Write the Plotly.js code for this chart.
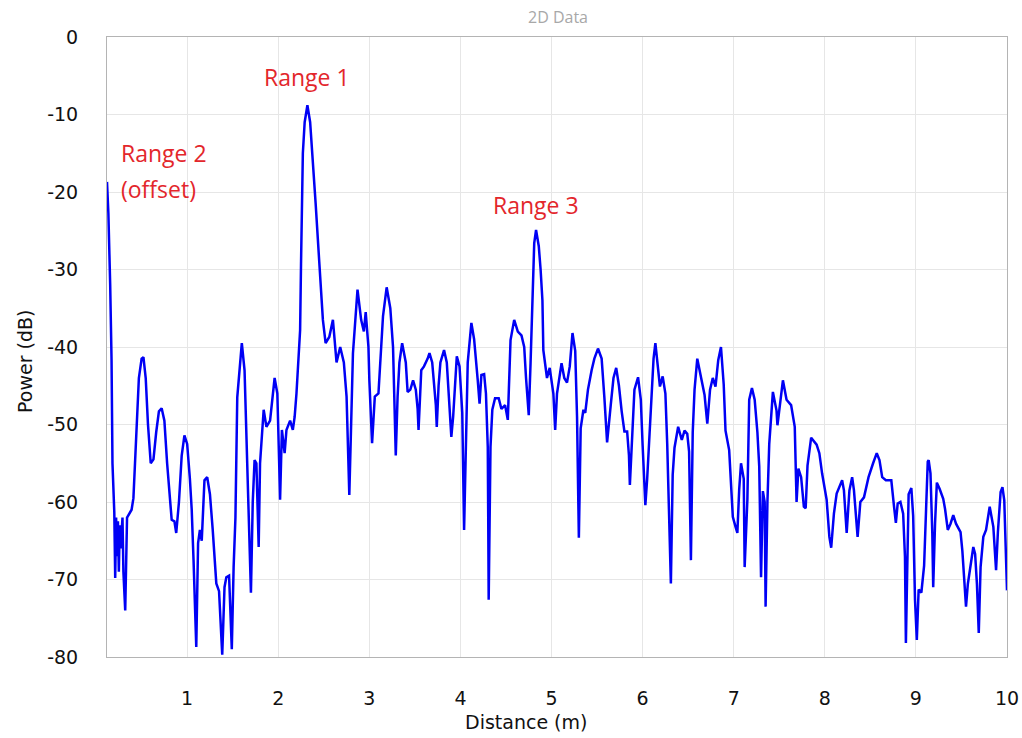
<!DOCTYPE html>
<html>
<head>
<meta charset="utf-8">
<script src="https://cdn.plot.ly/plotly-3.0.1.min.js"></script>
<style>html,body{margin:0;padding:0;background:#fff;}#chart{width:1022px;height:738px;}</style>
</head>
<body>
<div id="chart"></div>
<script>
const distance = [0.12,0.135,0.155,0.17,0.18,0.2,0.21,0.22,0.23,0.24,0.25,0.26,0.27,0.29,0.3,0.32,0.34,0.37,0.39,0.41,0.44,0.47,0.5,0.52,0.545,0.57,0.6,0.63,0.66,0.69,0.72,0.75,0.78,0.8,0.83,0.86,0.88,0.91,0.94,0.97,1.0,1.03,1.05,1.07,1.1,1.12,1.14,1.16,1.19,1.22,1.25,1.28,1.32,1.35,1.37,1.385,1.41,1.43,1.46,1.49,1.51,1.53,1.55,1.6,1.63,1.67,1.70,1.72,1.74,1.76,1.785,1.80,1.84,1.87,1.91,1.96,1.99,2.01,2.02,2.04,2.07,2.09,2.13,2.16,2.18,2.2,2.22,2.24,2.25,2.27,2.29,2.32,2.35,2.37,2.41,2.45,2.49,2.52,2.56,2.6,2.64,2.68,2.72,2.75,2.77,2.78,2.8,2.82,2.87,2.91,2.94,2.96,2.99,3.0,3.03,3.06,3.1,3.12,3.15,3.19,3.23,3.26,3.27,3.29,3.31,3.33,3.36,3.4,3.42,3.45,3.48,3.51,3.53,3.54,3.57,3.6,3.64,3.66,3.69,3.71,3.73,3.74,3.76,3.78,3.82,3.85,3.87,3.9,3.92,3.94,3.96,3.99,4.02,4.04,4.06,4.08,4.12,4.15,4.19,4.21,4.23,4.26,4.28,4.30,4.305,4.31,4.33,4.35,4.38,4.42,4.45,4.49,4.52,4.55,4.59,4.63,4.67,4.7,4.72,4.75,4.77,4.79,4.81,4.83,4.86,4.88,4.9,4.91,4.95,4.98,5.02,5.04,5.06,5.11,5.14,5.17,5.2,5.23,5.26,5.28,5.30,5.32,5.35,5.37,5.4,5.44,5.47,5.51,5.55,5.58,5.61,5.65,5.68,5.71,5.74,5.77,5.8,5.83,5.85,5.86,5.89,5.91,5.95,5.98,6.0,6.02,6.03,6.05,6.09,6.12,6.14,6.17,6.19,6.22,6.25,6.27,6.29,6.31,6.33,6.35,6.39,6.43,6.46,6.49,6.51,6.52,6.53,6.55,6.57,6.6,6.64,6.68,6.71,6.74,6.77,6.8,6.83,6.86,6.89,6.91,6.95,6.99,7.02,7.04,7.06,7.08,7.11,7.12,7.15,7.17,7.2,7.23,7.26,7.28,7.30,7.32,7.34,7.35,7.37,7.39,7.43,7.47,7.48,7.51,7.54,7.58,7.63,7.67,7.68,7.69,7.71,7.74,7.77,7.79,7.81,7.85,7.91,7.94,7.97,8.02,8.05,8.07,8.1,8.13,8.19,8.21,8.24,8.27,8.3,8.32,8.36,8.39,8.43,8.48,8.53,8.57,8.6,8.63,8.67,8.73,8.76,8.78,8.8,8.83,8.86,8.88,8.89,8.91,8.92,8.95,8.97,8.99,9.01,9.03,9.06,9.09,9.12,9.13,9.14,9.16,9.18,9.19,9.21,9.23,9.26,9.3,9.32,9.35,9.38,9.41,9.44,9.49,9.51,9.53,9.55,9.57,9.6,9.63,9.65,9.67,9.69,9.71,9.74,9.77,9.81,9.85,9.88,9.9,9.93,9.95,9.97,9.98,10.0];
const power = [-18.7,-22.7,-32,-41.7,-55,-61.3,-69.8,-62,-67,-62.5,-69,-63,-66,-62,-69,-74,-62,-61.4,-61,-59.5,-52,-44,-41.5,-41.3,-44,-50,-55,-54.5,-51,-48.3,-47.9,-49.5,-55,-58,-62.3,-62.5,-64,-60,-54,-51.4,-52.5,-57,-61,-67.5,-78.7,-65.3,-63.6,-65,-57.2,-56.8,-59,-63.5,-70.5,-71.5,-77.4,-79.7,-71,-69.7,-69.5,-79,-68.4,-62,-46.5,-39.5,-43,-58.5,-71.7,-60,-54.6,-55,-65.8,-55,-48.1,-50.3,-49.5,-44,-46,-55,-59.7,-50.7,-53.7,-50.7,-49.5,-50.7,-49,-46,-42,-37.8,-29.2,-15,-11,-8.8,-11,-15,-21.4,-29,-36.5,-39.5,-38.7,-36.5,-42,-40,-42,-46.4,-55.8,-59.1,-50,-40.8,-32.6,-36.5,-38,-35.5,-40,-44.3,-52.4,-46.4,-46,-42,-36,-32.3,-35,-40,-46.4,-54,-46.4,-42,-39.5,-42,-45.8,-45.5,-44.3,-45.5,-48,-50.7,-43,-42.5,-41.5,-40.8,-42,-44.3,-47.5,-50.3,-45,-42,-40.4,-42,-45.5,-51.6,-49,-45,-41.2,-42.5,-48.5,-63.6,-51,-42,-36.9,-39,-44.3,-47.3,-43.6,-43.5,-46,-52.9,-62,-72.6,-52.9,-48.1,-46.6,-46.6,-48,-47.5,-49.4,-39.1,-36.5,-38,-38.5,-40,-44,-48.8,-42,-33,-26.6,-24.9,-27,-30,-34,-40.4,-44,-42.7,-46,-50.7,-46,-42.1,-44,-44.6,-42.5,-38.2,-40.5,-49,-64.6,-50.5,-48.1,-48.5,-45.5,-43,-41.5,-40.2,-41.5,-46.5,-52.3,-47.5,-44,-42.7,-45,-48.3,-50.9,-50.9,-54,-57.8,-51,-45.5,-43.9,-46.8,-52.7,-58,-60.4,-57,-47,-41.5,-39.5,-43,-45.1,-43.8,-46,-52.5,-63.5,-70.5,-56.5,-53,-50.3,-52,-50.8,-51.2,-53.5,-61,-67.5,-51,-45.5,-41.5,-44,-46.2,-49.9,-45.5,-44,-45.1,-41.7,-40,-44.8,-50.8,-53.3,-61.9,-63.2,-64,-58.4,-55,-57,-68.4,-59.7,-46.8,-45.3,-46.8,-51,-55.4,-69.7,-58.6,-60,-73.5,-60,-52.5,-45.8,-48.2,-50.1,-46.8,-44.3,-46.8,-47.5,-50.3,-55.5,-60,-55.7,-56.8,-60.6,-60.8,-55.3,-51.7,-52.6,-53.7,-56.3,-59.7,-64.5,-65.9,-61.5,-58.9,-57.2,-58.5,-64,-58.5,-56.8,-58.5,-64.5,-60,-59.4,-56.8,-55,-53.7,-54.6,-56.8,-57.2,-57.2,-60.6,-62.7,-60.2,-60,-61.5,-67.1,-78.2,-66,-59,-58.2,-61.8,-72.6,-77.8,-71.3,-71.7,-68.2,-59.6,-54.8,-54.6,-56.3,-64,-71,-62.8,-57.5,-58.3,-59.6,-60.9,-63.6,-62.8,-61.7,-62.8,-63.9,-66.3,-70.6,-73.5,-70.6,-68.4,-65.8,-66.7,-70.6,-76.9,-68.4,-64.5,-63.6,-60.6,-63.2,-68.8,-63.9,-58.7,-58.1,-59.8,-64,-71.4];

const xTickVals = [1,2,3,4,5,6,7,8,9,10];
const xTickText = ["1","2","3","4","5","6","7","8","9","10"];
const yTickVals = [0,-10,-20,-30,-40,-50,-60,-70,-80];
const yTickText = ["0","-10","-20","-30","-40","-50","-60","-70","-80"];

const chartTitle = "2D Data";
const xTitle = "Distance (m)";
const yTitle = "Power (dB)";
const labelTexts = ["Range 1", "Range 2", "(offset)", "Range 3"];
const labelX = [2.32, 0.25, 0.25, 4.83];
const labelY = [-5.1, -15, -19.6, -21.7];

const tickFont = {family: "DejaVu Sans, Verdana, sans-serif", size: 19, color: "#111"};
const red = "#e3262b";
const redFont = {family: "Open Sans, sans-serif", size: 23, color: red};

const trace = {
  x: distance, y: power, type: "scatter", mode: "lines",
  line: {color: "#0000f5", width: 2.5}, hoverinfo: "skip"
};

const annotations = [
  {text: labelTexts[0], x: labelX[0], y: labelY[0], xref: "x", yref: "y", showarrow: false, xanchor: "center", yanchor: "middle", font: redFont},
  {text: labelTexts[1], x: labelX[1], y: labelY[1], xref: "x", yref: "y", showarrow: false, xanchor: "left", yanchor: "middle", font: redFont},
  {text: labelTexts[2], x: labelX[2], y: labelY[2], xref: "x", yref: "y", showarrow: false, xanchor: "left", yanchor: "middle", font: redFont},
  {text: labelTexts[3], x: labelX[3], y: labelY[3], xref: "x", yref: "y", showarrow: false, xanchor: "center", yanchor: "middle", font: redFont},
  {text: xTitle, x: (526 - 107) / 900, y: (657 - 722) / 620, xref: "paper", yref: "paper", xanchor: "center", yanchor: "middle", showarrow: false, font: tickFont},
  {text: yTitle, x: (25 - 107) / 900, y: (657 - 362) / 620, xref: "paper", yref: "paper", xanchor: "center", yanchor: "middle", showarrow: false, textangle: -90, font: tickFont}
];

const layout = {
  width: 1022, height: 738,
  margin: {l: 107, r: 15, t: 37, b: 81},
  paper_bgcolor: "#ffffff", plot_bgcolor: "#ffffff",
  showlegend: false,
  title: {text: chartTitle, x: 558/1022, xanchor: "center", y: 1 - 17/738, yanchor: "middle", font: {family: "Open Sans, sans-serif", size: 16, color: "#a8a8a8"}},
  xaxis: {
    range: [0.12, 10], tickmode: "array", tickvals: xTickVals, ticktext: xTickText,
    showgrid: true, gridcolor: "#e6e6e6", gridwidth: 1,
    zeroline: false, showline: true, linecolor: "#b4b4b4", linewidth: 1, mirror: true,
    ticks: "", ticklabelstandoff: 24, tickfont: tickFont
  },
  yaxis: {
    range: [-80, 0], tickmode: "array", tickvals: yTickVals, ticktext: yTickText,
    showgrid: true, gridcolor: "#e6e6e6", gridwidth: 1,
    zeroline: false, showline: true, linecolor: "#b4b4b4", linewidth: 1, mirror: true,
    ticks: "", ticklabelstandoff: 24, tickfont: tickFont
  },
  annotations: annotations
};

Plotly.newPlot("chart", [trace], layout, {displayModeBar: false, staticPlot: true});
</script>
</body>
</html>
